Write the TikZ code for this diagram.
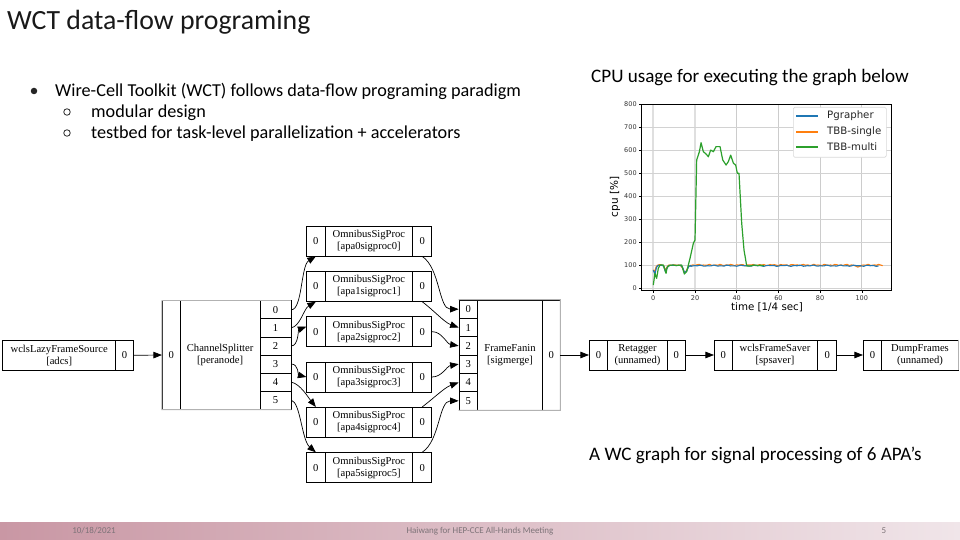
\documentclass[tikz,border=0pt]{standalone}
\usepackage{fontspec}
\setmainfont{Carlito}
\newfontfamily\gvfont{Liberation Serif}
\newfontfamily\mplfont{DejaVu Sans}
\usetikzlibrary{arrows.meta}
\definecolor{pgcol}{HTML}{1F77B4}
\definecolor{tbbs}{HTML}{FF7F0E}
\definecolor{tbbm}{HTML}{2CA02C}
\definecolor{footL}{RGB}{201,151,164}
\definecolor{footR}{RGB}{240,229,233}
\definecolor{foottxt}{RGB}{125,115,120}
\begin{document}
\begin{tikzpicture}[x=1pt,y=-1pt,
  rec/.style={draw=black, line width=0.75pt, inner sep=0pt, align=center, font=\gvfont\fontsize{10.6}{12}\selectfont},
  outerg/.style={draw=gray!60, line width=0.9pt},
  conn/.style={line width=0.7pt, -{Triangle[length=8.5pt,width=6.5pt]}},
  slidetxt/.style={inner sep=0pt, anchor=base west, font=\fontsize{18.2}{21}\selectfont},
  righttxt/.style={inner sep=0pt, anchor=base west, font=\fontsize{19.1}{22}\selectfont},
  gridv/.style={draw=gray!40, line width=0.7pt},
  gridvw/.style={draw=gray!25, line width=2.2pt},
  gridh/.style={draw=gray!35, line width=0.7pt},
  ticklab/.style={inner sep=0pt, font=\mplfont\fontsize{6.5}{7}\selectfont, text=black!80},
  legtxt/.style={inner sep=0pt, anchor=west, font=\mplfont\fontsize{10.2}{11}\selectfont, text=black!85},
  foot/.style={inner sep=0pt, font=\fontsize{9}{10}\selectfont, text=foottxt}]
\useasboundingbox (0,0) rectangle (960,540);
\fill[white] (0,0) rectangle (960,540);

% ---------- footer ----------
\shade[left color=footL, right color=footR] (0,522) rectangle (960,540);
\node[foot] (fdate) at (94,531) {10/18/2021};
\node[foot] (fname) at (480,531) {Haiwang for HEP-CCE All-Hands Meeting};
\node[foot] (fpage) at (884,531) {5};

% ---------- slide text ----------
\node[inner sep=0pt, anchor=base west, font=\fontsize{27.8}{31}\selectfont, text=black!90] (title) at (7,30) {WCT data-flow programing};
\node[circle, fill=black!85, inner sep=0pt, minimum size=6.5pt] (b1) at (34,91) {};
\node[slidetxt] (t1) at (55,97) {Wire-Cell Toolkit (WCT) follows data-flow programing paradigm};
\node[circle, draw=black!85, line width=0.8pt, inner sep=0pt, minimum size=6.5pt] (b2) at (67,112) {};
\node[slidetxt] (t2) at (91,118) {modular design};
\node[circle, draw=black!85, line width=0.8pt, inner sep=0pt, minimum size=6.5pt] (b3) at (67,133) {};
\node[slidetxt] (t3) at (91,139) {testbed for task-level parallelization + accelerators};
\node[righttxt] (cpu) at (591,83) {CPU usage for executing the graph below};
\node[righttxt] (cap) at (589,460) {A WC graph for signal processing of 6 APA’s};

% ---------- chart ----------
\begin{scope}[shift={(653.3,288.3)}, x={(2.085pt,0pt)}, y={(0pt,0.2304pt)}]
  \foreach \t in {0,20} \draw[gridvw] (\t,-8) -- (\t,800);
  \foreach \t in {40,60,80,100} \draw[gridv] (\t,-8) -- (\t,800);
  \foreach \c in {0,100,...,800} \draw[gridh] (-5.5,\c) -- (114,\c);
  \foreach \t in {0,20,...,100} {
    \draw[line width=0.6pt] (\t,-8) -- ++(0pt,-3pt);
    \node[ticklab, anchor=north] at ([yshift=-5pt]\t,-8) {\t};
  }
  \foreach \c in {0,100,...,800} {
    \draw[line width=0.6pt] (-5.5,\c) -- ++(-3pt,0pt);
    \node[ticklab, anchor=east] at ([xshift=-5pt]-5.5,\c) {\c};
  }
  % orange TBB-single
  \draw[tbbs, line width=1.1pt, line join=round]
    (0,80) -- (0.7,72) -- (1.3,92) -- (2,100) -- (3,103) -- (4,101) -- (5,98) -- (5.7,80) -- (6.5,90) -- (7.2,100) -- (8,101) -- (9,100) -- (10,102) -- (11,100) -- (12,101) -- (13,100) -- (14,88) -- (14.8,70) -- (15.6,72) -- (16.5,88) -- (17.3,97) -- (18,100)
    -- plot[domain=18:110, samples=93] (\x, {101+2*sin(\x*137)+1.5*sin(\x*71)-12*max(0,1-abs(\x-98)/1.5)});
  % blue Pgrapher
  \draw[pgcol, line width=1.1pt, line join=round]
    (0,78) -- (0.8,62) -- (1.5,90) -- (2.3,100) -- (3,99) -- (4,100) -- (5,96) -- (5.8,72) -- (6.6,88) -- (7.5,99) -- (9,100) -- (11,99) -- (13,100) -- (14,92) -- (15,68) -- (16,75) -- (17,95) -- (18,99)
    -- plot[domain=18:108, samples=91] (\x, {98+1.5*sin(\x*113+40)+1.5*sin(\x*53)});
  % green TBB-multi
  \draw[tbbm, line width=1.2pt, line join=round]
    (0,14) -- (0.8,65) -- (1.6,43) -- (2.4,87) -- (3.2,101) -- (4.8,101) -- (6.1,65) -- (6.7,93) -- (8,100) -- (9.6,101) -- (11,99) -- (13.6,101) -- (14.9,62) -- (16,72) -- (17.6,130) -- (19.2,195) -- (20,210) -- (20.8,557) -- (22.1,593) -- (22.9,632) -- (24,593) -- (25.3,583) -- (26.4,571) -- (27.5,600) -- (28.8,593) -- (30.1,615) -- (32,615) -- (33.3,557) -- (34.9,535) -- (36,550) -- (37.1,578) -- (38.4,543) -- (39.5,535) -- (40.3,499) -- (41.1,499) -- (42.4,282) -- (43.5,166) -- (44.8,97) -- (46.4,97) -- (48.8,101) -- (50,99) -- (51.5,100) -- (53,98);
  \draw[line width=0.8pt] (-5.5,-8) rectangle (114,800);
\end{scope}
\node[rotate=90, inner sep=0pt, font=\mplfont\fontsize{10.5}{12}\selectfont] (ylab) at (615,197) {cpu [\%]};
\node[inner sep=0pt, font=\mplfont\fontsize{10.3}{12}\selectfont] (xlab) at (767,307) {time [1/4 sec]};
\node[draw=gray!30, fill=white, rounded corners=1.5pt, line width=0.6pt, minimum width=93pt, minimum height=50pt, anchor=north west, inner sep=0pt] (leg) at (793,107) {};
\draw[pgcol, line width=1.1pt] (796,116) -- (818,116);
\draw[tbbs, line width=1.1pt] (796,132) -- (818,132);
\draw[tbbm, line width=1.2pt] (796,147) -- (818,147);
\node[legtxt] (l1) at (827,116) {Pgrapher};
\node[legtxt] (l2) at (827,132) {TBB-single};
\node[legtxt] (l3) at (827,147) {TBB-multi};

% ---------- data-flow graph ----------
% source
\node[rec, minimum width=113pt, minimum height=30.7pt] (srcm) at (59.2,355.3) {wclsLazyFrameSource\\{}[adcs]};
\node[rec, minimum width=17.6pt, minimum height=30.7pt] (srco) at (124.5,355.3) {0};
% channel splitter
\node[rec, minimum width=18pt, minimum height=108.6pt] (csi) at (171.3,355) {0};
\node[rec, minimum width=79.7pt, minimum height=108.6pt] (csm) at (220.15,355) {ChannelSplitter\\{}[peranode]};
\foreach \i in {0,...,5}{
  \pgfmathsetmacro\yy{309.75+18.1*\i}
  \node[rec, minimum width=31pt, minimum height=18.1pt] (csp\i) at (275.5,\yy) {\i};
}
\draw[outerg] (csi.north west) -- (csp0.north east);
\draw[outerg] (csi.north west) -- (csi.south west) -- (csp5.south east);
% sigproc boxes
\foreach \i in {0,...,5}{
  \pgfmathsetmacro\yy{241+45.333*\i}
  \node[rec, minimum width=18.3pt, minimum height=30pt] (spi\i) at (315.85,\yy) {0};
  \node[rec, minimum width=87.7pt, minimum height=30pt] (spm\i) at (368.85,\yy) {OmnibusSigProc\\{}[apa\i sigproc\i]};
  \node[rec, minimum width=19pt, minimum height=30pt] (spo\i) at (422.2,\yy) {0};
}
% frame fanin
\foreach \i in {0,...,5}{
  \pgfmathsetmacro\yy{309.17+18.333*\i}
  \node[rec, minimum width=18.3pt, minimum height=18.333pt] (ffp\i) at (468.15,\yy) {\i};
}
\node[rec, minimum width=65.4pt, minimum height=110pt] (ffm) at (510,355) {FrameFanin\\{}[sigmerge]};
\node[rec, minimum width=17.3pt, minimum height=110pt] (ffo) at (551.35,355) {0};
\draw[outerg] (ffp0.north west) -- (ffo.north east) -- (ffo.south east) -- (ffp5.south west);
% retagger
\node[rec, minimum width=18.4pt, minimum height=30pt] (rti) at (598.5,355) {0};
\node[rec, minimum width=59.6pt, minimum height=30pt] (rtm) at (637.5,355) {Retagger\\(unnamed)};
\node[rec, minimum width=18pt, minimum height=30pt] (rto) at (676.3,355) {0};
% frame saver
\node[rec, minimum width=18pt, minimum height=30pt] (fsi) at (723.3,355) {0};
\node[rec, minimum width=85.4pt, minimum height=30pt] (fsm) at (775,355) {wclsFrameSaver\\{}[spsaver]};
\node[rec, minimum width=19pt, minimum height=30pt] (fso) at (827.2,355) {0};
% dump frames
\node[rec, minimum width=18.4pt, minimum height=30pt] (dfi) at (872.5,355) {0};
\node[rec, minimum width=76.6pt, minimum height=30pt] (dfm) at (920,355) {DumpFrames\\(unnamed)};
\draw[outerg] (dfm.north east) -- (dfm.south east);

% straight connectors
\draw[conn] (srco.east) -- (csi.west);
\draw[conn] (ffo.east) -- (rti.west);
\draw[conn] (rto.east) -- (fsi.west);
\draw[conn] (fso.east) -- (dfi.west);

% splitter -> sigproc
\draw[conn] (csp0.east) .. controls +(11,0) and +(-15,9) .. (spi0.south);
\draw[conn] (csp1.east) .. controls +(9,-2) and +(-12,7) .. (spi1.south);
\draw[conn] (csp2.east) .. controls +(7,0) and +(-8,3) .. ([yshift=5pt]spi2.west);
\draw[conn] (csp3.east) .. controls +(7,0) and +(-8,-2) .. (spi3.west);
\draw[conn] (csp4.east) .. controls +(9,2) and +(-8,-10) .. (spi4.north);
\draw[conn] (csp5.east) .. controls +(9,2) and +(-14,-12) .. (spi5.north);

% sigproc -> fanin
\draw[conn] (spo0.south) .. controls +(18,12) and +(-20,0) .. (ffp0.west);
\draw[conn] (spo1.south) .. controls +(13,10) and +(-14,-5) .. (ffp1.west);
\draw[conn] (spo2.east) .. controls +(10,0) and +(-12,-2) .. (ffp2.west);
\draw[conn] (spo3.east) .. controls +(10,0) and +(-12,2) .. (ffp3.west);
\draw[conn] (spo4.north) .. controls +(13,-10) and +(-14,5) .. (ffp4.west);
\draw[conn] (spo5.north) .. controls +(18,-12) and +(-20,0) .. (ffp5.west);
\end{tikzpicture}
\end{document}
